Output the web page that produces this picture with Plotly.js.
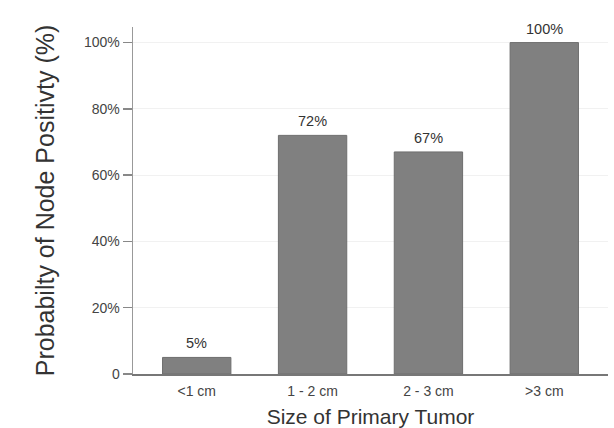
<!DOCTYPE html>
<html>
<head>
<meta charset="utf-8">
<script src="https://cdn.plot.ly/plotly-3.0.1.min.js"></script>
<style>html,body{margin:0;padding:0;background:#fff;}#chart{width:614px;height:428px;}</style>
</head>
<body>
<div id="chart"></div>
<script>
const categories = ["<1 cm", "1 - 2 cm", "2 - 3 cm", ">3 cm"];
const values = [5, 72, 67, 100];
const labels = ["5%", "72%", "67%", "100%"];
const yTickVals = [0, 20, 40, 60, 80, 100];
const yTickText = ["0", "20%", "40%", "60%", "80%", "100%"];

const trace = {
  type: "bar",
  x: categories,
  y: values,
  marker: {color: "#808080", line: {color: "#6e6e6e", width: 1}},
  hoverinfo: "skip"
};

const annotations = categories.map((c, i) => ({
  x: c, y: values[i], xref: "x", yref: "y",
  text: labels[i], showarrow: false, yanchor: "bottom", yshift: 4,
  font: {family: "Liberation Sans, Arial, sans-serif", size: 14.5, color: "#333"}
}));

const layout = {
  width: 614, height: 428,
  margin: {l: 133, r: 6, t: 27, b: 54},
  paper_bgcolor: "#fff", plot_bgcolor: "#fff",
  showlegend: false,
  bargap: 0.41,
  font: {family: "Liberation Sans, Arial, sans-serif", color: "#444"},
  xaxis: {
    type: "category",
    range: [-0.55, 3.55],
    showline: true, linecolor: "#777", linewidth: 1.5,
    ticks: "", showgrid: false, zeroline: false,
    ticklabelstandoff: 4,
    tickfont: {size: 14, color: "#444"},
    title: {text: "Size of Primary Tumor", font: {size: 21, color: "#333"}, standoff: 12}
  },
  yaxis: {
    range: [0, 104.7],
    tickvals: yTickVals, ticktext: yTickText,
    showline: true, linecolor: "#999", linewidth: 1.5,
    ticks: "outside", ticklen: 9, tickcolor: "#888", tickwidth: 1.5,
    showgrid: true, gridcolor: "#f1f1f1", gridwidth: 1,
    zeroline: false,
    tickfont: {size: 14, color: "#444"},
    title: {text: "Probabilty of Node Positivty (%)", font: {size: 25, color: "#333"}, standoff: 22}
  },
  annotations: annotations
};

Plotly.newPlot("chart", [trace], layout, {displayModeBar: false, staticPlot: true});
</script>
</body>
</html>
